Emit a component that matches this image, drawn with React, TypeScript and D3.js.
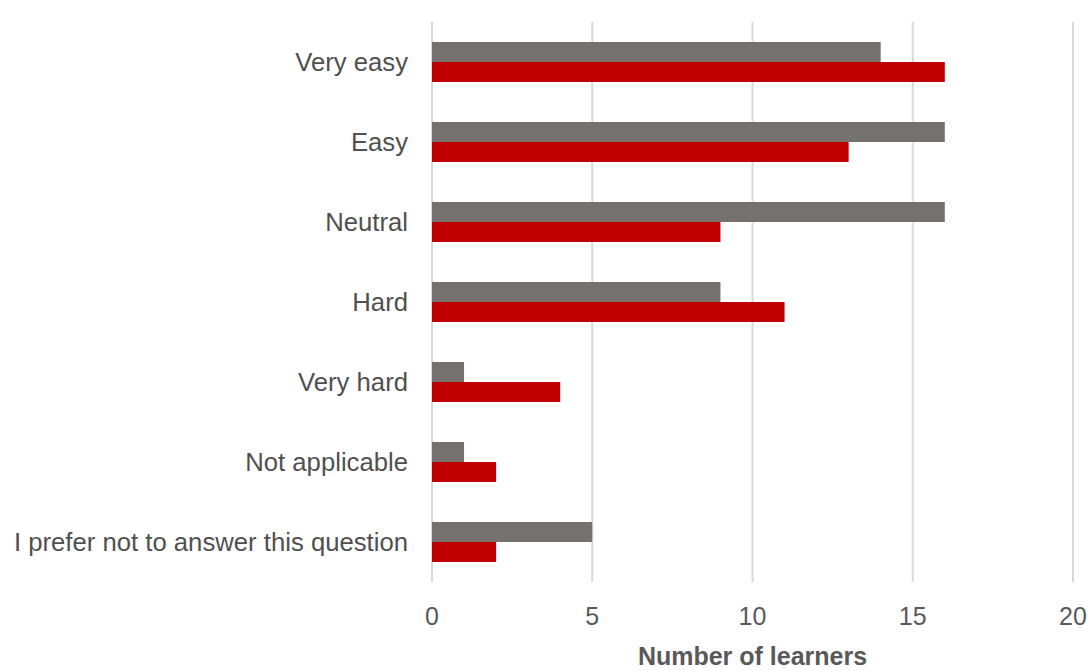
import React from 'react';
import * as d3 from 'd3';

const categories = [
  'Very easy',
  'Easy',
  'Neutral',
  'Hard',
  'Very hard',
  'Not applicable',
  'I prefer not to answer this question',
];
const greyValues = [14, 16, 16, 9, 1, 1, 5];
const redValues = [16, 13, 9, 11, 4, 2, 2];
const xTicks = [0, 5, 10, 15, 20];
const xLabel = 'Number of learners';

const W = 1091;
const H = 671;
const margin = { top: 22, right: 18, bottom: 89, left: 432 };
const font = '"Liberation Sans", Arial, sans-serif';

const App: React.FC = () => {
  const x = d3.scaleLinear().domain([0, 20]).range([margin.left, 1073]);
  const y = d3.scaleBand().domain(categories).range([margin.top, H - margin.bottom]);
  // two bars of a quarter band each, centred in the band
  const inner = d3.scaleBand().domain(['grey', 'red']).range([0, y.bandwidth()]).paddingOuter(1).paddingInner(0);

  const rows = categories.map((c, i) => ({ c, grey: greyValues[i], red: redValues[i] }));

  return (
    <div style={{ position: 'absolute', left: 0, top: 0 }}>
      <svg width={W} height={H} style={{ display: 'block', background: '#fff' }}>
        {xTicks.map(t => (
          <line key={'g' + t} x1={x(t)} x2={x(t)} y1={margin.top} y2={H - margin.bottom}
            stroke="#d9d9d9" strokeWidth={2} />
        ))}
        {rows.map(r => (
          <g key={r.c}>
            <rect x={x(0)} y={(y(r.c) ?? 0) + (inner('grey') ?? 0)} width={x(r.grey) - x(0)}
              height={inner.bandwidth()} fill="#767171" />
            <rect x={x(0)} y={(y(r.c) ?? 0) + (inner('red') ?? 0)} width={x(r.red) - x(0)}
              height={inner.bandwidth()} fill="#c00000" />
            <text x={408} y={(y(r.c) ?? 0) + y.bandwidth() / 2} dy="0.35em" textAnchor="end"
              fontFamily={font} fontSize={25.7} fill="#505050">{r.c}</text>
          </g>
        ))}
        {xTicks.map(t => (
          <text key={'t' + t} x={x(t)} y={625} textAnchor="middle" fontFamily={font}
            fontSize={25} fill="#595959">{t}</text>
        ))}
        <text x={x(10)} y={665} textAnchor="middle" fontFamily={font} fontSize={25}
          fontWeight="bold" fill="#595959">{xLabel}</text>
      </svg>
    </div>
  );
};

export default App;
